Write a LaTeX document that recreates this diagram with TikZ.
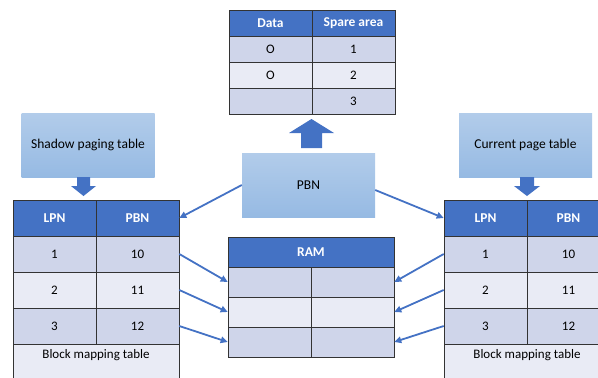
\documentclass[tikz,border=0pt]{standalone}
\usepackage{fontspec}
\setmainfont{Carlito}
\usetikzlibrary{arrows.meta}
\definecolor{hdrblue}{HTML}{4472C4}
\definecolor{rowdark}{HTML}{CFD5EA}
\definecolor{rowlight}{HTML}{E9EBF5}
\definecolor{boxtop}{HTML}{B2CCEA}
\definecolor{boxbot}{HTML}{96BAE3}

\begin{document}
\begin{tikzpicture}[x=1pt,y=-1pt,
  cell/.style={draw=black!80, line width=0.6pt, minimum width=83pt, inner sep=0pt, font=\fontsize{13}{15}\selectfont},
  hdr/.style={cell, fill=hdrblue, text=white, font=\fontsize{13.5}{15}\selectfont\bfseries},
  infobox/.style={rectangle, top color=boxtop, bottom color=boxbot, minimum width=133pt, minimum height=64pt, font=\fontsize{13.5}{16}\selectfont},
  link/.style={draw=hdrblue, line width=1.8pt, -{Triangle[length=7pt,width=6.5pt]}},
  blk/.style={fill=hdrblue}]
  \useasboundingbox (0,0) rectangle (598,378);
  \clip (0,0) rectangle (598,378);

  % flash page: data + spare area
  \node[hdr, minimum height=26pt] (datah) at (270.5,23) {Data};
  \node[hdr, minimum height=26pt] (spareh) at (353.5,23) {Spare area};
  \node[cell, fill=rowdark, minimum height=26pt] (data1) at (270.5,49) {O};
  \node[cell, fill=rowdark, minimum height=26pt] (spare1) at (353.5,49) {1};
  \node[cell, fill=rowlight, minimum height=26pt] (data2) at (270.5,75) {O};
  \node[cell, fill=rowlight, minimum height=26pt] (spare2) at (353.5,75) {2};
  \node[cell, fill=rowdark, minimum height=26pt] (data3) at (270.5,101) {};
  \node[cell, fill=rowdark, minimum height=26pt] (spare3) at (353.5,101) {3};

  % the three boxes
  \node[infobox] (shadow) at (88,145) {Shadow paging table};
  \node[infobox] (current) at (525.5,145) {Current page table};
  \node[infobox] (pbn) at (308.5,185) {PBN};

  % block arrows
  \fill[blk] (301,148) -- (301,133) -- (289,133) -- (311.5,119) -- (334,133) -- (322,133) -- (322,148) -- cycle;
  \fill[blk] (77,177) -- (77,186) -- (71,186) -- (83.5,196) -- (96,186) -- (90,186) -- (90,177) -- cycle;
  \fill[blk] (520,177) -- (520,186) -- (514,186) -- (527,196) -- (540,186) -- (534,186) -- (534,177) -- cycle;

  % left block mapping table
  \node[hdr, minimum height=36pt] (llpnh) at (54.5,218) {LPN};
  \node[hdr, minimum height=36pt] (lpbnh) at (137.5,218) {PBN};
  \foreach \i/\y/\c in {1/254/rowdark, 2/290/rowlight, 3/326/rowdark} {
    \pgfmathtruncatemacro\pb{9+\i}
    \node[cell, fill=\c, minimum height=36pt] (llpn\i) at (54.5,\y) {\i};
    \node[cell, fill=\c, minimum height=36pt] (lpbn\i) at (137.5,\y) {\pb};
  }
  \node[cell, fill=rowlight, minimum width=166pt, minimum height=46pt,
    label={[anchor=north, yshift=-2pt, font=\fontsize{13}{15}\selectfont]north:Block mapping table}] (lfoot) at (96,367) {};

  % right block mapping table
  \node[hdr, minimum height=36pt] (rlpnh) at (485.5,218) {LPN};
  \node[hdr, minimum height=36pt] (rpbnh) at (568.5,218) {PBN};
  \foreach \i/\y/\c in {1/254/rowdark, 2/290/rowlight, 3/326/rowdark} {
    \pgfmathtruncatemacro\pb{9+\i}
    \node[cell, fill=\c, minimum height=36pt] (rlpn\i) at (485.5,\y) {\i};
    \node[cell, fill=\c, minimum height=36pt] (rpbn\i) at (568.5,\y) {\pb};
  }
  \node[cell, fill=rowlight, minimum width=166pt, minimum height=46pt,
    label={[anchor=north, yshift=-2pt, font=\fontsize{13}{15}\selectfont]north:Block mapping table}] (rfoot) at (527,367) {};

  % RAM
  \node[hdr, minimum width=166pt, minimum height=30pt] (ramh) at (311,252) {RAM};
  \foreach \i/\y/\c in {1/282/rowdark, 2/312/rowlight, 3/342/rowdark} {
    \node[cell, fill=\c, minimum height=30pt] (raml\i) at (269.5,\y) {};
    \node[cell, fill=\c, minimum height=30pt] (ramr\i) at (352.5,\y) {};
  }

  % connectors
  \draw[link] (pbn.west) -- (lpbnh.east);
  \draw[link] ([yshift=-5pt]pbn.east) -- (rlpnh.west);
  \foreach \i in {1,2,3} {
    \draw[link] (lpbn\i.east) -- (raml\i.west);
    \draw[link] (rlpn\i.west) -- (ramr\i.east);
  }
\end{tikzpicture}
\end{document}
